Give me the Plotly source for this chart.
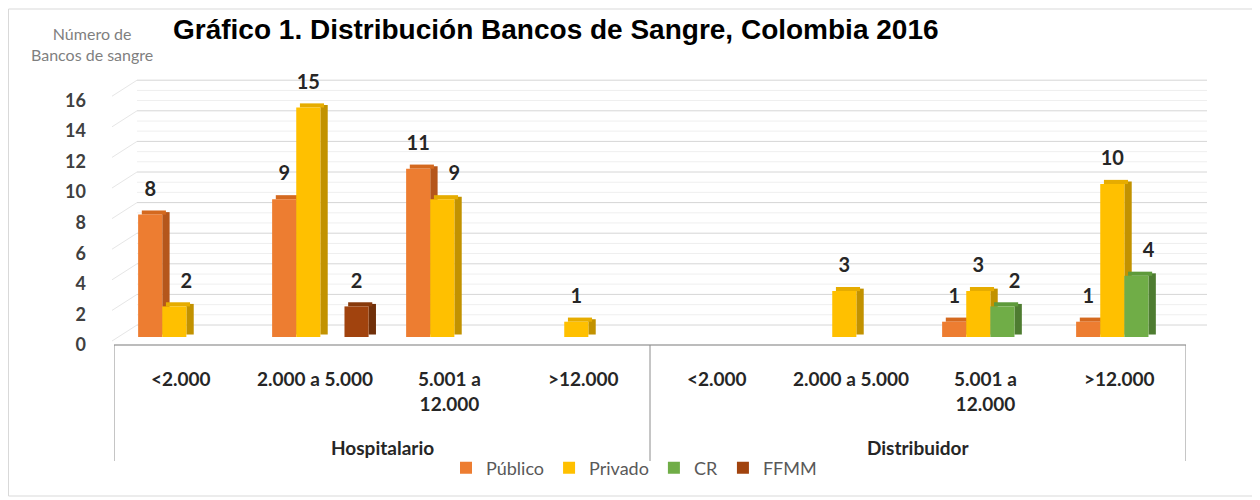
import plotly.graph_objects as go

# ---------------- data ----------------
groups = ["Hospitalario", "Distribuidor"]
ranges = ["<2.000", "2.000 a 5.000", "5.001 a<br>12.000", ">12.000"]
series_names = ["Público", "Privado", "CR", "FFMM"]
publico = [8, 9, 11, 0, 0, 0, 1, 1]
privado = [2, 15, 9, 1, 0, 3, 3, 10]
cr = [0, 0, 0, 0, 0, 0, 2, 4]
ffmm = [0, 2, 0, 0, 0, 0, 0, 0]
y_ticks = [0, 2, 4, 6, 8, 10, 12, 14, 16]
title_text = "Gráfico 1. Distribución Bancos de Sangre, Colombia 2016"
y_title = "Número de<br>Bancos de sangre"

# ---------------- style ----------------
OFF = 8                      # page body margin (screen px -> figure px)
W, H = 1260 - OFF, 500 - OFF


def S(p):
    return p - OFF


MT, MB = S(75), H - S(348)
PLOT_TOP, PLOT_BOT = S(75), S(348)
PXU = 15.3                               # px per unit
ZERO_PX = S(337)
Y_LO = (ZERO_PX - PLOT_BOT) / PXU
Y_HI = (ZERO_PX - PLOT_TOP) / PXU
LABEL_SHIFT = (ZERO_PX - S(345)) / PXU   # front tick labels
GRID_SHIFT = (ZERO_PX - S(325)) / PXU    # back wall gridlines
X_FRONT0, X_FRONT1 = S(114), S(1186)
X_BACK0, X_BACK1 = S(137), S(1207)

front_cols = ["#ED7D31", "#FFC000", "#70AD47", "#A1430E"]
side_cols = ["#B5561B", "#C29200", "#4E7C31", "#70300A"]
top_cols = ["#D4691F", "#E6AC00", "#5E9A3B", "#87390B"]
offsets = [-0.23, -0.05, 0.13, 0.31]
BW = 0.18
DX = 0.055
DY = 0.27
LABEL_NUDGE = 0.09
FONT = "Lato, 'Open Sans', sans-serif"


def py(p):
    """screen pixel row -> paper y"""
    return (PLOT_BOT - S(p)) / (PLOT_BOT - PLOT_TOP)


def px(p):
    """screen pixel column -> paper x"""
    return S(p) / W


all_series = [publico, privado, cr, ffmm]
fig = go.Figure()

for s, vals in enumerate(all_series):
    idx = [i for i, v in enumerate(vals) if v > 0]
    xc = [i + offsets[s] for i in idx]
    vv = [vals[i] for i in idx]
    # side face
    fig.add_trace(go.Bar(
        x=[c + BW / 2 + DX / 2 for c in xc], y=vv, base=[DY * 0.6] * len(vv),
        width=DX, marker=dict(color=side_cols[s], line_width=0),
        showlegend=False, hoverinfo="skip"))
    # top face
    fig.add_trace(go.Bar(
        x=[c + DX * 0.5 for c in xc], y=[DY] * len(vv), base=vv,
        width=BW, marker=dict(color=top_cols[s], line_width=0),
        showlegend=False, hoverinfo="skip"))
    # front face
    fig.add_trace(go.Bar(
        x=xc, y=vv, base=[0] * len(vv), width=BW, name=series_names[s],
        marker=dict(color=front_cols[s], line_width=0), legendgroup=series_names[s]))

# data labels (nudged right when the bar to the left is taller)
for s, vals in enumerate(all_series):
    idx = [i for i, v in enumerate(vals) if v > 0]
    xs = []
    for i in idx:
        nudge = LABEL_NUDGE if s > 0 and all_series[s - 1][i] > vals[i] else 0
        xs.append(i + offsets[s] + nudge)
    fig.add_trace(go.Scatter(
        x=xs, y=[vals[i] + DY for i in idx],
        text=[str(vals[i]) for i in idx], mode="markers+text",
        textposition="top center", marker=dict(size=14, opacity=0),
        textfont=dict(family=FONT, size=20, color="#262626", weight="bold"),
        showlegend=False, hoverinfo="skip", cliponaxis=False))

shapes = []
# chart frame
shapes.append(dict(type="rect", xref="paper", yref="paper",
                   x0=px(8.5), x1=px(1253), y0=py(496), y1=py(9),
                   line=dict(color="#d9d9d9", width=1), layer="below"))
# back wall gridlines + left wall diagonals
for v in y_ticks:
    shapes.append(dict(type="line", xref="paper", yref="y",
                       x0=px(X_BACK0 + OFF), x1=px(X_BACK1 + OFF),
                       y0=v + GRID_SHIFT, y1=v + GRID_SHIFT,
                       line=dict(color="#d6d6d6", width=1), layer="below"))
    shapes.append(dict(type="line", xref="paper", yref="y",
                       x0=px(X_FRONT0 + OFF - 2), x1=px(X_BACK0 + OFF),
                       y0=v + LABEL_SHIFT + 0.26, y1=v + GRID_SHIFT,
                       line=dict(color="#e6e6e6", width=1), layer="below"))
    if v < y_ticks[-1]:
        for f in (0.67, 1.33):
            shapes.append(dict(type="line", xref="paper", yref="y",
                               x0=px(X_BACK0 + OFF), x1=px(X_BACK1 + OFF),
                               y0=v + f + GRID_SHIFT, y1=v + f + GRID_SHIFT,
                               line=dict(color="#efefef", width=1), layer="below"))
# floor front edge
shapes.append(dict(type="line", xref="x", yref="paper", x0=-0.5, x1=7.5,
                   y0=py(345), y1=py(345), line=dict(color="#a6a6a6", width=1.5)))
# group separators
for xv in (-0.5, 3.5, 7.5):
    shapes.append(dict(type="line", xref="x", yref="paper", x0=xv, x1=xv,
                       y0=py(345), y1=py(461), line=dict(color="#8c8c8c", width=1)))

annotations = []
for g, gname in enumerate(groups):
    for r, rname in enumerate(ranges):
        annotations.append(dict(x=g * len(ranges) + r, y=py(365), xref="x", yref="paper",
                                text=rname, showarrow=False, yanchor="top",
                                font=dict(family=FONT, size=19, color="#262626", weight="bold")))
    annotations.append(dict(x=g * len(ranges) + (len(ranges) - 1) / 2, y=py(447),
                            xref="x", yref="paper", text=gname, showarrow=False,
                            yanchor="middle",
                            font=dict(family=FONT, size=19, color="#262626", weight="bold")))
annotations.append(dict(x=px(92), y=py(22), xref="paper", yref="paper", text=y_title,
                        showarrow=False, xanchor="center", yanchor="top", align="center",
                        font=dict(family=FONT, size=16, color="#7f7f7f")))
# chart title (placed as an annotation so its box stays inside the page)
annotations.append(dict(x=px(556), y=py(12), xref="paper", yref="paper",
                        text="<b>" + title_text + "</b>", showarrow=False,
                        xanchor="center", yanchor="top",
                        font=dict(family="'Liberation Sans', Arial, sans-serif",
                                  size=28, color="black")))

fig.update_layout(
    width=W, height=H,
    margin=dict(l=0, r=0, t=MT, b=MB),
    paper_bgcolor="white", plot_bgcolor="rgba(0,0,0,0)",
    barmode="overlay",
    xaxis=dict(range=[-0.5, 7.5], domain=[X_FRONT0 / W, X_FRONT1 / W],
               showticklabels=False, showgrid=False, zeroline=False, showline=False,
               fixedrange=True),
    yaxis=dict(range=[Y_LO, Y_HI], tickvals=[v + LABEL_SHIFT for v in y_ticks],
               ticktext=[str(v) for v in y_ticks], showgrid=False, zeroline=False,
               showline=False, ticks="", ticklabelstandoff=27,
               tickfont=dict(family=FONT, size=18, color="#404040", weight="bold"),
               fixedrange=True),
    legend=dict(orientation="h", x=px(634), xanchor="center", y=py(468), yanchor="middle",
                font=dict(family=FONT, size=18, color="#595959"),
                itemwidth=30, bgcolor="rgba(0,0,0,0)", tracegroupgap=0),
    shapes=shapes, annotations=annotations,
    showlegend=True,
)

fig.write_html("out.html")
